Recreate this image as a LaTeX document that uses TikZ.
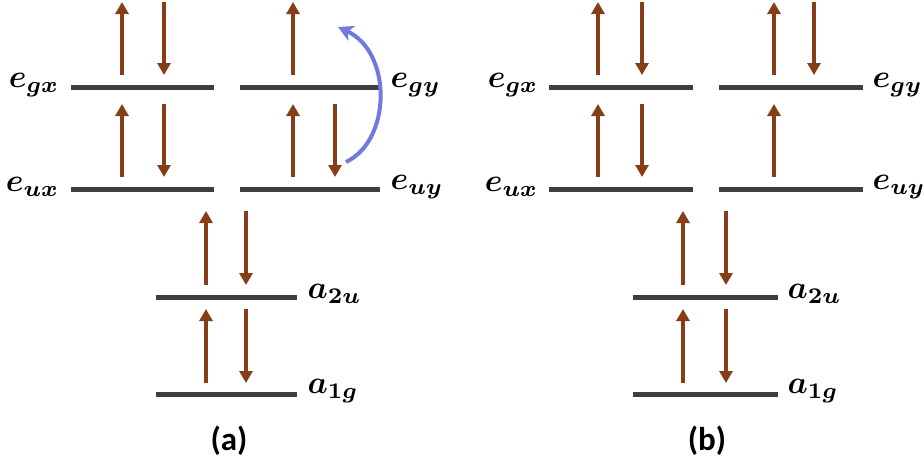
\documentclass[tikz,border=0pt]{standalone}
\usepackage{bm}
\usepackage{fontspec}
\newfontfamily\capfont{Carlito}
\usetikzlibrary{arrows.meta}
\definecolor{lvl}{RGB}{62,62,62}
\definecolor{spin}{RGB}{135,62,22}
\definecolor{hop}{RGB}{112,122,222}
\tikzset{
  level/.style={draw=lvl,line width=5pt},
  spinarr/.style={draw=spin,line width=3.5pt,-{Triangle[width=13pt,length=12pt]}},
  hoparr/.style={draw=hop,line width=4pt,-{Stealth[width=16pt,length=15pt,inset=4pt]}},
  lab/.style={inner sep=0pt,scale=3.2},
  captext/.style={inner sep=0pt,scale=3.3,font=\capfont\bfseries}
}
\begin{document}
\begin{tikzpicture}[x=1pt,y=-1pt]
\useasboundingbox (0,0) rectangle (924,467);
% ---------- panel (a) ----------
\draw[level] (71,87) -- (214,87);
\draw[level] (240,87) -- (380,87);
\draw[level] (71,189) -- (214,189);
\draw[level] (240,189) -- (380,189);
\draw[level] (156,297) -- (297,297);
\draw[level] (156,394) -- (297,394);
\node[lab,anchor=east] (agx) at (60,85) {$\bm{e_{gx}}$};
\node[lab,anchor=east] (aux) at (60,187) {$\bm{e_{ux}}$};
\node[lab,anchor=west] (agy) at (390,85) {$\bm{e_{gy}}$};
\node[lab,anchor=west] (auy) at (390,187) {$\bm{e_{uy}}$};
\node[lab,anchor=west] (a2u) at (307,294) {$\bm{a_{2u}}$};
\node[lab,anchor=west] (a1g) at (307,391) {$\bm{a_{1g}}$};
\node[captext] (capa) at (229,441) {(a)};
% spins (a)
\coordinate (a1s) at (122,75); \coordinate (a1e) at (122,2);
\coordinate (a2s) at (164,2);  \coordinate (a2e) at (164,75);
\coordinate (a3s) at (293,75); \coordinate (a3e) at (293,2);
\coordinate (a4s) at (122,177); \coordinate (a4e) at (122,104);
\coordinate (a5s) at (164,104); \coordinate (a5e) at (164,177);
\coordinate (a6s) at (293,177); \coordinate (a6e) at (293,104);
\coordinate (a7s) at (335,104); \coordinate (a7e) at (335,177);
\coordinate (a8s) at (206,285); \coordinate (a8e) at (206,211);
\coordinate (a9s) at (246,211); \coordinate (a9e) at (246,285);
\coordinate (a10s) at (206,383); \coordinate (a10e) at (206,309);
\coordinate (a11s) at (246,309); \coordinate (a11e) at (246,383);
\foreach \i in {1,...,11} {\draw[spinarr] (a\i s) -- (a\i e);}
\coordinate (hs) at (346,162); \coordinate (he) at (338,27);
\draw[hoparr] (hs) .. controls (392,140) and (392,52) .. (he);
% ---------- panel (b) ----------
\draw[level] (549,87) -- (693,87);
\draw[level] (719,87) -- (863,87);
\draw[level] (549,189) -- (693,189);
\draw[level] (719,189) -- (863,189);
\draw[level] (633,297) -- (778,297);
\draw[level] (633,394) -- (778,394);
\node[lab,anchor=east] (bgx) at (539,85) {$\bm{e_{gx}}$};
\node[lab,anchor=east] (bux) at (539,187) {$\bm{e_{ux}}$};
\node[lab,anchor=west] (bgy) at (872,85) {$\bm{e_{gy}}$};
\node[lab,anchor=west] (buy) at (872,187) {$\bm{e_{uy}}$};
\node[lab,anchor=west] (b2u) at (787,294) {$\bm{a_{2u}}$};
\node[lab,anchor=west] (b1g) at (787,391) {$\bm{a_{1g}}$};
\node[captext] (capb) at (707,441) {(b)};
% spins (b)
\coordinate (b1s) at (598,75); \coordinate (b1e) at (598,2);
\coordinate (b2s) at (642,2);  \coordinate (b2e) at (642,75);
\coordinate (b3s) at (774,75); \coordinate (b3e) at (774,2);
\coordinate (b4s) at (814,2);  \coordinate (b4e) at (814,75);
\coordinate (b5s) at (598,177); \coordinate (b5e) at (598,104);
\coordinate (b6s) at (642,104); \coordinate (b6e) at (642,177);
\coordinate (b7s) at (774,177); \coordinate (b7e) at (774,104);
\coordinate (b8s) at (683,285); \coordinate (b8e) at (683,211);
\coordinate (b9s) at (726,211); \coordinate (b9e) at (726,285);
\coordinate (b10s) at (683,383); \coordinate (b10e) at (683,309);
\coordinate (b11s) at (726,309); \coordinate (b11e) at (726,383);
\foreach \i in {1,...,11} {\draw[spinarr] (b\i s) -- (b\i e);}
\end{tikzpicture}
\end{document}
